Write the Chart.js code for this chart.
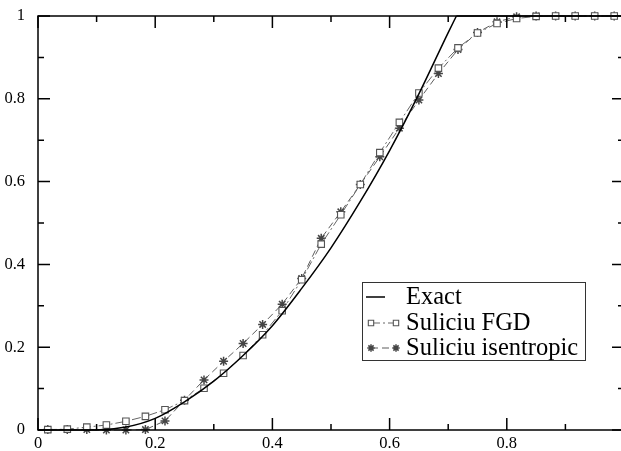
<!DOCTYPE html>
<html>
<head>
<meta charset="utf-8">
<script src="https://cdn.jsdelivr.net/npm/chart.js@4/dist/chart.umd.min.js"></script>
<style>
  html, body { margin: 0; padding: 0; background: #fff; overflow: hidden; }
  #wrap { width: 621px; height: 451px; overflow: hidden; }
</style>
</head>
<body>
<div id="wrap"><canvas id="profile-canvas" width="630" height="451"></canvas></div>
<script>
// cell centres of the 30-cell grid
const cellX = [
  0.0167, 0.05, 0.0833, 0.1167, 0.15, 0.1833, 0.2167, 0.25, 0.2833, 0.3167,
  0.35, 0.3833, 0.4167, 0.45, 0.4833, 0.5167, 0.55, 0.5833, 0.6167, 0.65,
  0.6833, 0.7167, 0.75, 0.7833, 0.8167, 0.85, 0.8833, 0.9167, 0.95, 0.9833,
];
const fgdValues = [
  0.001, 0.002, 0.007, 0.012, 0.021, 0.033, 0.049, 0.071, 0.101, 0.137,
  0.18, 0.23, 0.288, 0.363, 0.449, 0.52, 0.593, 0.67, 0.743, 0.814,
  0.874, 0.923, 0.959, 0.982, 0.994, 0.999, 1.0, 1.0, 1.0, 1.0,
];
const isentropicValues = [
  0.001, 0.001, 0.001, 0.0, 0.0, 0.001, 0.022, 0.072, 0.121, 0.166,
  0.209, 0.255, 0.304, 0.366, 0.463, 0.527, 0.593, 0.66, 0.729, 0.797,
  0.861, 0.919, 0.96, 0.986, 0.998, 1.0, 1.0, 1.0, 1.0, 1.0,
];
// exact solution: smooth fan, then the constant state
const exactX = [0, 0.1, 0.15, 0.2, 0.25, 0.3, 0.35, 0.4, 0.45, 0.5, 0.55, 0.6, 0.65, 0.7, 0.714];
const exactY = [0, 0, 0.007, 0.028, 0.068, 0.118, 0.18, 0.252, 0.342, 0.44, 0.552, 0.675, 0.812, 0.96, 1];
const plateauX = [0.714, 1];
const plateauY = [1, 1];

const legendLabels = ["Exact", "Suliciu FGD", "Suliciu isentropic"];

const SERIF = '"Liberation Serif", "Times New Roman", serif';
const toXY = (xs, ys) => xs.map((x, i) => ({ x, y: ys[i] }));

const exactStyle = { borderColor: "#000", borderWidth: 1.5, borderDash: [] };
const fgdStyle = {
  borderColor: "#666", borderWidth: 1, borderDash: [9, 3, 2, 3],
  pointStyle: "rect", pointRadius: 4.6, pointBorderColor: "#555",
  pointBackgroundColor: "#fff", pointBorderWidth: 1.1,
};
const isoStyle = {
  borderColor: "#5c5c5c", borderWidth: 1, borderDash: [7, 4],
  pointStyle: "star", pointRadius: 4.5, pointBorderColor: "#454545",
  pointBackgroundColor: "#454545", pointBorderWidth: 1.5,
};

function drawMarker(ctx, style, x, y) {
  ctx.save();
  ctx.setLineDash([]);
  ctx.strokeStyle = style.pointBorderColor;
  ctx.fillStyle = style.pointBackgroundColor;
  ctx.lineWidth = style.pointBorderWidth;
  Chart.helpers.drawPoint(ctx, {
    pointStyle: style.pointStyle, rotation: 0,
    radius: style.pointRadius - 0.8, borderWidth: style.pointBorderWidth,
  }, x, y);
  ctx.restore();
}

// box frame with inward ticks on all four sides, plus the boxed legend
const framePlugin = {
  id: "frame",
  afterDraw(chart) {
    const ctx = chart.ctx;
    const { left, right, top, bottom } = chart.chartArea;
    const xs = chart.scales.x, ys = chart.scales.y;
    ctx.save();
    ctx.strokeStyle = "#000";
    ctx.lineWidth = 1.5;
    ctx.strokeRect(left, top, right - left, bottom - top);
    ctx.beginPath();
    for (let k = 0; k <= 10; k++) {
      const v = k / 10;
      const len = k % 2 === 0 ? 12 : 6;
      const px = xs.getPixelForValue(v);
      const py = ys.getPixelForValue(v);
      ctx.moveTo(px, bottom); ctx.lineTo(px, bottom - len);
      ctx.moveTo(px, top); ctx.lineTo(px, top + len);
      ctx.moveTo(left, py); ctx.lineTo(left + len, py);
      ctx.moveTo(right, py); ctx.lineTo(right - len, py);
    }
    ctx.stroke();

    // legend
    const bx = 362.5, by = 282.5, bw = 223, bh = 78;
    ctx.fillStyle = "#fff";
    ctx.fillRect(bx, by, bw, bh);
    ctx.strokeStyle = "#333";
    ctx.lineWidth = 1;
    ctx.strokeRect(bx, by, bw, bh);
    const rows = [297, 323, 348];
    const styles = [exactStyle, fgdStyle, isoStyle];
    styles.forEach((st, i) => {
      const ry = rows[i];
      ctx.save();
      ctx.strokeStyle = st.borderColor;
      ctx.lineWidth = st.borderWidth;
      ctx.setLineDash(st.borderDash);
      ctx.beginPath();
      if (i === 0) { ctx.moveTo(366, ry); ctx.lineTo(385, ry); }
      else { ctx.moveTo(371, ry); ctx.lineTo(396, ry); }
      ctx.stroke();
      ctx.restore();
      if (st.pointStyle) {
        drawMarker(ctx, st, 371, ry);
        drawMarker(ctx, st, 396, ry);
      }
      ctx.fillStyle = "#000";
      ctx.font = "24.5px " + SERIF;
      ctx.textBaseline = "middle";
      ctx.textAlign = "left";
      ctx.fillText(legendLabels[i], 406, ry + 1);
    });
    ctx.restore();
  },
};

new Chart(document.getElementById("profile-canvas"), {
  type: "line",
  data: {
    datasets: [
      {
        label: legendLabels[0],
        data: toXY(exactX, exactY),
        ...exactStyle,
        pointRadius: 0,
        cubicInterpolationMode: "monotone",
        clip: false,
      },
      {
        label: "plateau",
        data: toXY(plateauX, plateauY),
        ...exactStyle,
        pointRadius: 0,
        clip: false,
      },
      {
        label: legendLabels[1],
        data: toXY(cellX, fgdValues),
        ...fgdStyle,
        tension: 0,
        clip: false,
      },
      {
        label: legendLabels[2],
        data: toXY(cellX, isentropicValues),
        ...isoStyle,
        tension: 0,
        clip: false,
      },
    ],
  },
  options: {
    responsive: false,
    animation: false,
    layout: { padding: { top: 16, right: 4.5, left: 0, bottom: 0 } },
    plugins: { legend: { display: false }, tooltip: { enabled: false } },
    scales: {
      x: {
        type: "linear",
        min: 0,
        max: 1,
        grid: { display: false },
        border: { display: false },
        ticks: {
          stepSize: 0.2,
          autoSkip: false,
          maxRotation: 0,
          padding: -4,
          color: "#000",
          font: { family: SERIF, size: 16.5 },
          callback: (v) => (v >= 1 ? "" : String(Math.round(v * 10) / 10)),
        },
        afterFit: (scale) => { scale.height = 21; },
      },
      y: {
        min: 0,
        max: 1,
        grid: { display: false },
        border: { display: false },
        ticks: {
          stepSize: 0.2,
          padding: 5,
          color: "#000",
          font: { family: SERIF, size: 16.5 },
          callback: (v) => String(Math.round(v * 10) / 10),
        },
        afterFit: (scale) => { scale.width = 38; },
      },
    },
  },
  plugins: [framePlugin],
});
</script>
</body>
</html>
